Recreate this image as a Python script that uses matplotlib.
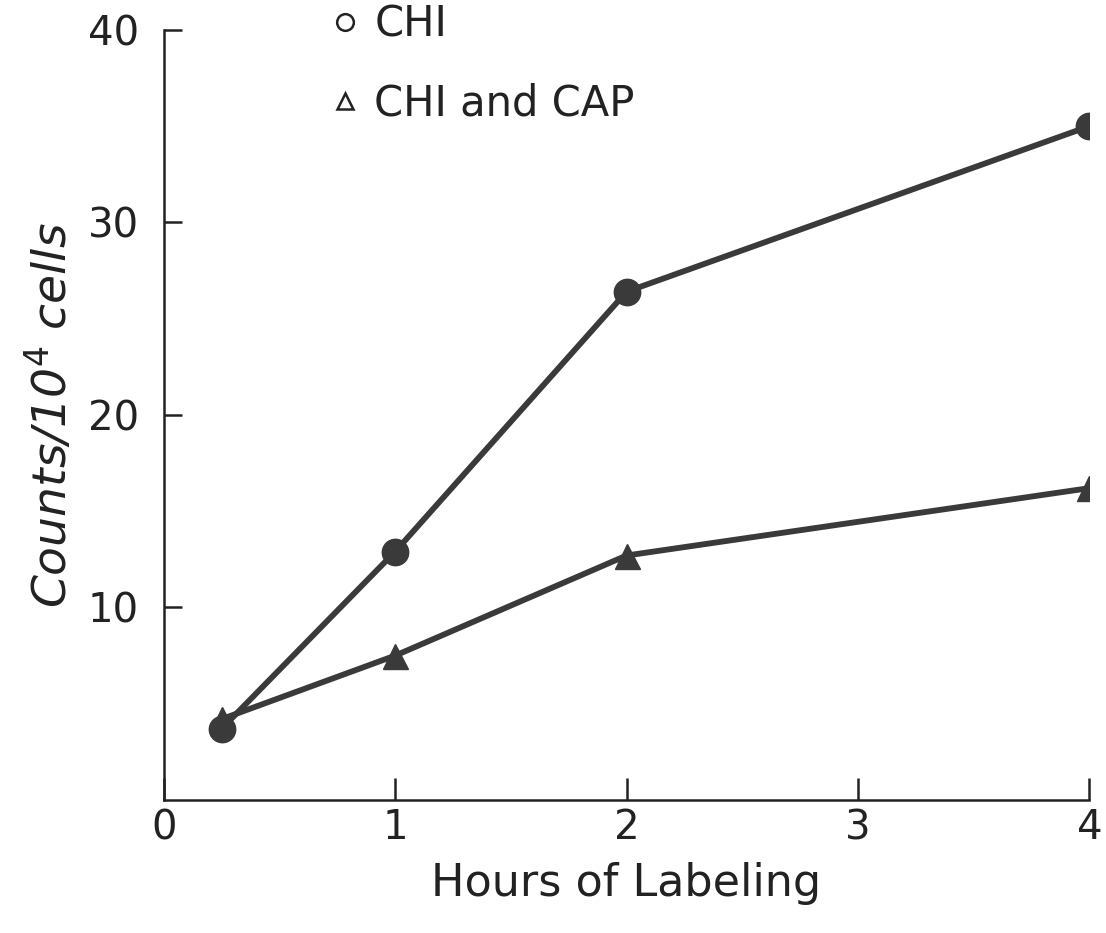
import matplotlib.pyplot as plt
from matplotlib.lines import Line2D

# data
hours = [0.25, 1, 2, 4]
chi = [3.7, 12.9, 26.4, 35.0]
chi_cap = [4.2, 7.5, 12.7, 16.2]

x_ticks = [0, 1, 2, 3, 4]
y_ticks = [10, 20, 30, 40]

plt.rcParams['font.family'] = ['DejaVu Sans']
ink = '#3a3a3a'

fig = plt.figure(figsize=(11.06, 9.33), dpi=100)
ax = fig.add_axes([0.148, 0.1425, 0.837, 0.8255])

ax.plot(hours, chi, '-o', color=ink, lw=4.2, ms=19, zorder=3)
ax.plot(hours, chi_cap, '-^', color=ink, lw=4.2, ms=18, zorder=3)

ax.set_xlim(0, 4)
ax.set_ylim(0, 40)
ax.set_xticks(x_ticks)
ax.set_yticks(y_ticks)
ax.spines['top'].set_visible(False)
ax.spines['right'].set_visible(False)
for s in ['left', 'bottom']:
    ax.spines[s].set_linewidth(1.8)
    ax.spines[s].set_color('#222222')
ax.tick_params(axis='both', direction='in', length=13, width=1.8, colors='#222222',
               labelsize=29)
ax.tick_params(axis='x', length=16, pad=6)
ax.tick_params(axis='y', pad=18)

ax.set_xlabel('Hours of Labeling', fontsize=32, labelpad=10, color='#222222')
ax.set_ylabel('Counts/10$^4$ cells', fontsize=34, style='italic', labelpad=8,
              color='#222222')

handles = [Line2D([], [], ls='none', marker='o', mfc='white', mec='#222222', ms=12, mew=1.8),
           Line2D([], [], ls='none', marker='^', mfc='white', mec='#222222', ms=12, mew=1.8)]
ax.legend(handles, ['CHI', 'CHI and CAP'], loc='upper left', bbox_to_anchor=(0.142, 1.083),
          frameon=False, fontsize=30, handlelength=0.6, handletextpad=0.4, labelspacing=0.9,
          labelcolor='#222222')

fig.savefig('out.png', dpi=100)
